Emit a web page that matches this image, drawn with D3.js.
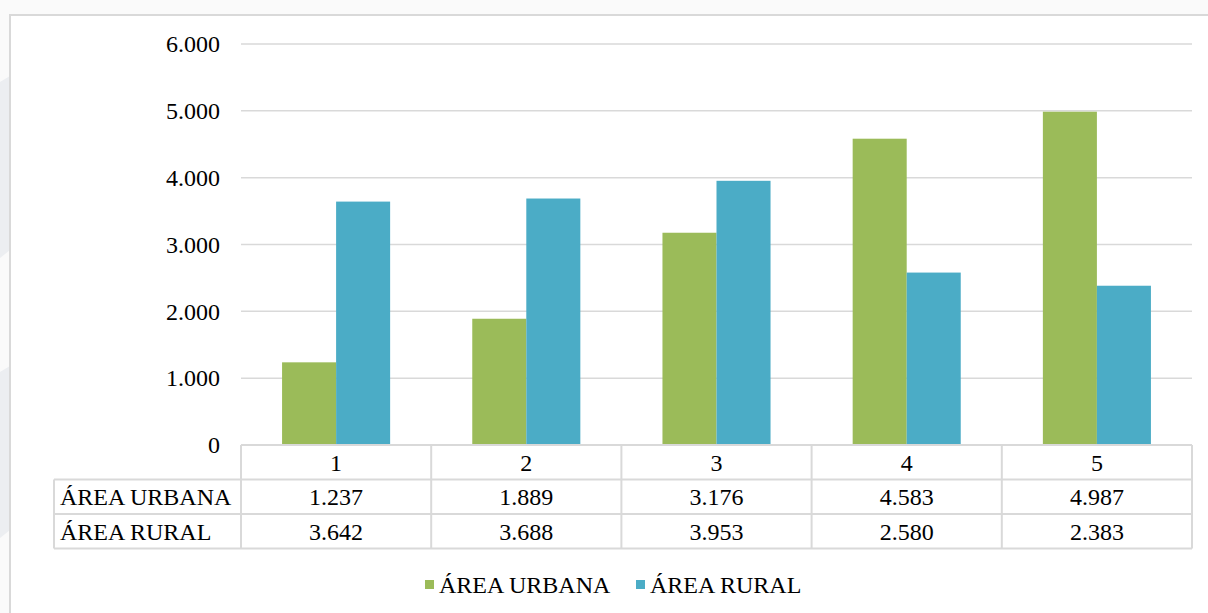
<!DOCTYPE html>
<html>
<head>
<meta charset="utf-8">
<script src="https://cdn.jsdelivr.net/npm/d3@7"></script>
</head>
<body style="margin:0">
<svg id="chart" width="1208" height="613" font-family="Liberation Serif, Tinos, serif">
  <style>text { font-family: "Liberation Serif", Tinos, "Times New Roman", serif; }</style>
</svg>
<script>
// Categories and series values
const categories = ["1", "2", "3", "4", "5"];
const urbana = [1237, 1889, 3176, 4583, 4987];
const rural = [3642, 3688, 3953, 2580, 2383];
const seriesNames = ["ÁREA URBANA", "ÁREA RURAL"];
const seriesColors = ["#9BBB59", "#4BACC6"];
const yTicks = [0, 1000, 2000, 3000, 4000, 5000, 6000];

const fmt = v => d3.format(",")(v).replace(/,/g, ".");
const fs = 24;
const FONT = "'Liberation Serif', Tinos, 'Times New Roman', serif";

const svg = d3.select("#chart");
const W = 1208, H = 613;

// serif face for every label
const styleText = sel => sel.style("font-family", FONT).attr("font-size", fs).attr("fill", "#000");

// Page background with faint side shapes
svg.append("rect").attr("width", W).attr("height", H).attr("fill", "#fafafa");
svg.append("path").attr("d", "M0,82 L10,76 L10,250 L0,258 Z").attr("fill", "#eceef1");
svg.append("path").attr("d", "M0,372 L10,366 L10,530 L0,538 Z").attr("fill", "#eceef1");

// Chart area box
svg.append("rect").attr("x", 10).attr("y", 15).attr("width", W).attr("height", H)
  .attr("fill", "#ffffff").attr("stroke", "#d9d9d9").attr("stroke-width", 2);

const plot = { left: 241, right: 1192, top: 44, bottom: 445 };

const x = d3.scaleBand().domain(categories).range([plot.left, plot.right]).paddingInner(0).paddingOuter(0);
const xSub = d3.scaleBand().domain(seriesNames).range([0, x.bandwidth()]).paddingInner(0).paddingOuter(0.76);
const y = d3.scaleLinear().domain([0, 6000]).range([plot.bottom, plot.top]);

// Gridlines
svg.append("g").selectAll("line").data(yTicks.filter(d => d > 0)).join("line")
  .attr("x1", plot.left).attr("x2", plot.right)
  .attr("y1", d => y(d)).attr("y2", d => y(d))
  .attr("stroke", "#d9d9d9").attr("stroke-width", 1.5);

// Y axis labels
const yAxis = d3.axisLeft(y).tickValues(yTicks).tickFormat(fmt).tickSize(0).tickPadding(0);
const gy = svg.append("g").attr("transform", `translate(${plot.left - 21},0)`).call(yAxis)
  .attr("font-family", null).attr("font-size", null);
gy.select(".domain").remove();
gy.selectAll("text").call(styleText);

// Bars
const rows = categories.map((c, i) => ({ cat: c, values: [urbana[i], rural[i]] }));
const groups = svg.append("g").selectAll("g").data(rows).join("g")
  .attr("transform", d => `translate(${x(d.cat)},0)`);
groups.selectAll("rect").data(d => d.values.map((v, j) => ({ v, j }))).join("rect")
  .attr("x", d => xSub(seriesNames[d.j]))
  .attr("width", xSub.bandwidth())
  .attr("y", d => y(d.v))
  .attr("height", d => y(0) - y(d.v))
  .attr("fill", d => seriesColors[d.j]);

// Data table
const rowH = 34.5;
const tableTop = plot.bottom;
const labelLeft = 54;
const grid = svg.append("g").attr("stroke", "#d9d9d9").attr("stroke-width", 2).attr("fill", "none");
grid.append("line").attr("x1", plot.left).attr("x2", plot.right).attr("y1", tableTop).attr("y2", tableTop);
[1, 2, 3].forEach(k => {
  grid.append("line").attr("x1", labelLeft).attr("x2", plot.right)
    .attr("y1", tableTop + k * rowH).attr("y2", tableTop + k * rowH);
});
grid.append("line").attr("x1", labelLeft).attr("x2", labelLeft)
  .attr("y1", tableTop + rowH).attr("y2", tableTop + 3 * rowH);
categories.forEach(c => {
  grid.append("line").attr("x1", x(c)).attr("x2", x(c)).attr("y1", tableTop).attr("y2", tableTop + 3 * rowH);
});
grid.append("line").attr("x1", plot.right).attr("x2", plot.right).attr("y1", tableTop).attr("y2", tableTop + 3 * rowH);

// category labels
svg.append("g").selectAll("text").data(categories).join("text")
  .attr("x", d => x(d) + x.bandwidth() / 2).attr("y", tableTop + rowH / 2).attr("dy", "0.35em")
  .attr("text-anchor", "middle").text(d => d).call(styleText);

// series rows
[urbana, rural].forEach((vals, j) => {
  const cy = tableTop + rowH * (j + 1) + rowH / 2;
  svg.append("text").attr("x", labelLeft + 6).attr("y", cy).attr("dy", "0.35em")
    .text(seriesNames[j]).call(styleText);
  svg.append("g").selectAll("text").data(vals).join("text")
    .attr("x", (d, i) => x(categories[i]) + x.bandwidth() / 2).attr("y", cy).attr("dy", "0.35em")
    .attr("text-anchor", "middle").text(d => fmt(d)).call(styleText);
});

// Legend
const legendY = 585;
const legendItems = [{ x: 425, label: seriesNames[0], color: seriesColors[0] },
                     { x: 636, label: seriesNames[1], color: seriesColors[1] }];
const lg = svg.append("g").selectAll("g").data(legendItems).join("g");
lg.append("rect").attr("x", d => d.x).attr("y", legendY - 5).attr("width", 9).attr("height", 9).attr("fill", d => d.color);
lg.append("text").attr("x", d => d.x + 14).attr("y", legendY).attr("dy", "0.35em")
  .text(d => d.label).call(styleText);
</script>
</body>
</html>
